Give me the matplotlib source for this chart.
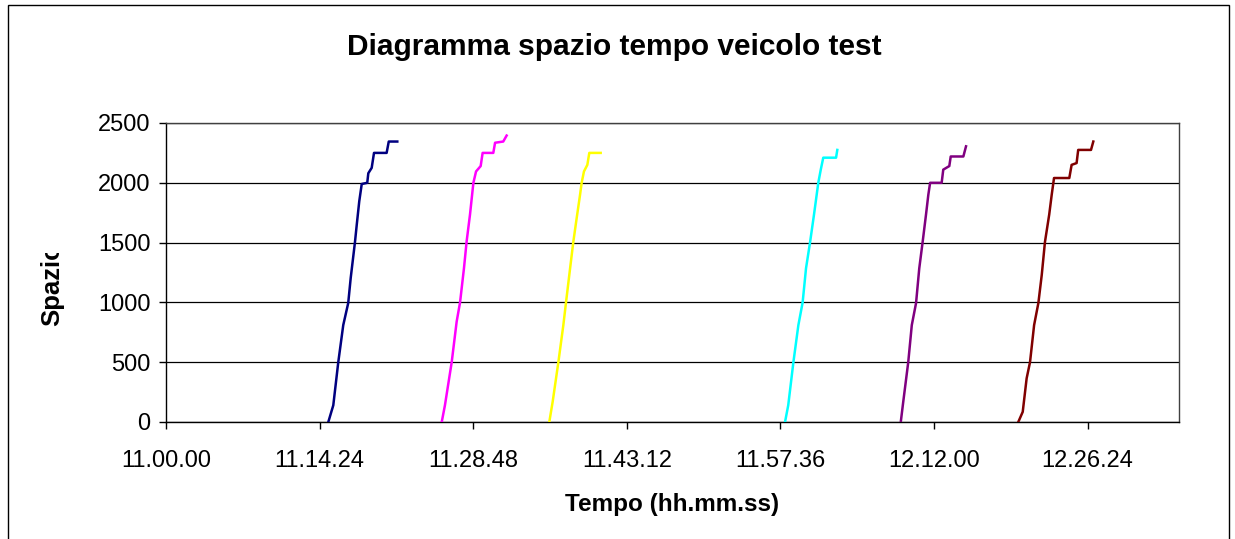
import matplotlib
matplotlib.use("Agg")
from matplotlib import pyplot as plt
from matplotlib.patches import Rectangle
from matplotlib.ticker import FuncFormatter, MultipleLocator

plt.rcParams['font.family'] = ['Liberation Sans', 'DejaVu Sans']

# passaggi del veicolo test: orario e spazio percorso (m)
t_run1 = ["11:15:13", "11:15:41", "11:16:09", "11:16:37", "11:17:05", "11:17:19", "11:17:43",
          "11:17:53", "11:18:07", "11:18:21", "11:18:52", "11:18:58", "11:19:17", "11:19:30",
          "11:20:41", "11:20:53", "11:21:41"]
s_run1 = [0, 140, 500, 810, 995, 1205, 1505, 1650, 1845, 1990, 2000, 2080, 2125, 2250, 2250, 2345, 2345]

t_run2 = ["11:25:51", "11:26:09", "11:26:47", "11:27:15", "11:27:34", "11:27:56", "11:28:11",
          "11:28:30", "11:28:49", "11:29:04", "11:29:30", "11:29:41", "11:30:41", "11:30:51",
          "11:31:37", "11:31:56"]
s_run2 = [0, 140, 500, 840, 1000, 1285, 1510, 1735, 2000, 2095, 2140, 2250, 2250, 2335, 2345, 2395]

t_run3 = ["11:35:56", "11:36:15", "11:36:47", "11:37:15", "11:37:30", "11:37:53", "11:38:11",
          "11:38:30", "11:38:49", "11:38:58", "11:39:11", "11:39:30", "11:39:41", "11:40:45"]
s_run3 = [0, 170, 500, 810, 1000, 1285, 1505, 1705, 1900, 2000, 2095, 2150, 2250, 2250]

t_run4 = ["11:58:02", "11:58:20", "11:58:49", "11:59:17", "11:59:41", "12:00:00", "12:00:23",
          "12:00:45", "12:01:00", "12:01:09", "12:01:23", "12:01:37", "12:02:49", "12:02:56"]
s_run4 = [0, 140, 500, 810, 1000, 1285, 1505, 1735, 1900, 2000, 2110, 2210, 2210, 2275]

t_run5 = ["12:08:53", "12:09:07", "12:09:35", "12:09:55", "12:10:19", "12:10:37", "12:10:56",
          "12:11:15", "12:11:28", "12:11:38", "12:12:43", "12:12:52", "12:13:26", "12:13:34",
          "12:14:45", "12:15:00"]
s_run5 = [0, 170, 500, 810, 995, 1285, 1505, 1735, 1900, 2000, 2000, 2110, 2140, 2220, 2220, 2305]

t_run6 = ["12:19:54", "12:20:19", "12:20:41", "12:21:00", "12:21:23", "12:21:47", "12:22:06",
          "12:22:24", "12:22:48", "12:23:02", "12:23:15", "12:24:41", "12:24:54", "12:25:22",
          "12:25:31", "12:26:43", "12:26:56"]
s_run6 = [0, 85, 365, 500, 810, 995, 1230, 1505, 1735, 1900, 2040, 2040, 2150, 2165, 2275, 2275, 2345]

colori = ["#000080", "#FF00FF", "#FFFF00", "#00FFFF", "#800080", "#800000"]


def secondi(hms):
  h, m, s = hms.split(":")
  return int(h) * 3600 + int(m) * 60 + int(s)


def hhmmss(x, pos=None):
  x = int(round(x))
  return f"{x // 3600}.{(x % 3600) // 60:02d}.{x % 60:02d}"


fig = plt.figure(figsize=(12.35, 5.39), dpi=100)
W, H = 1235, 539
ax = fig.add_axes([166 / W, 1 - 422 / H, (1179 - 166) / W, (422 - 123) / H])

corse = [(t_run1, s_run1), (t_run2, s_run2), (t_run3, s_run3),
         (t_run4, s_run4), (t_run5, s_run5), (t_run6, s_run6)]
for (tt, ss), c in zip(corse, colori):
  ax.plot([secondi(t) for t in tt], ss, color=c, lw=1.8, zorder=3)

t0 = secondi("11:00:00")
ax.set_xlim(t0, t0 + 5698)
ax.set_ylim(0, 2500)
ax.set_xticks([t0 + 864 * k for k in range(7)])
ax.xaxis.set_major_formatter(FuncFormatter(hhmmss))
ax.yaxis.set_major_locator(MultipleLocator(500))

ax.grid(axis='y', color='black', lw=0.9)
ax.set_axisbelow(True)
for lato in ['left', 'bottom']:
  ax.spines[lato].set_color('black')
  ax.spines[lato].set_linewidth(1)
for lato in ['top', 'right']:
  ax.spines[lato].set_color('#404040')
  ax.spines[lato].set_linewidth(1)

ax.tick_params(axis='y', direction='out', length=5, width=1, labelsize=17, pad=6)
ax.tick_params(axis='x', direction='out', length=5, width=1, labelsize=17, pad=15)

ax.set_xlabel("Tempo (hh.mm.ss)", fontsize=17.5, fontweight='bold', labelpad=15)

fig.text(614 / W, 1 - 47 / H, "Diagramma spazio tempo veicolo test",
         fontsize=21.5, fontweight='bold', ha='center', va='center')

# etichetta asse y: nell'originale la "o" finale e' tagliata a meta'
fig.text(52 / W, 1 - 326 / H, "Spazio", rotation=90, fontsize=18.5, fontweight='bold',
         ha='center', va='bottom')
fig.patches.append(Rectangle((30 / W, 1 - 253 / H), 45 / W, 60 / H, transform=fig.transFigure,
                             fc='white', ec='none', zorder=10))

fig.patches.append(Rectangle((8 / W, -0.05), (1229 - 8) / W, 1.05 - 5 / H,
                             transform=fig.transFigure, fill=False, ec='black', lw=1))

fig.savefig("out.png", dpi=100)
